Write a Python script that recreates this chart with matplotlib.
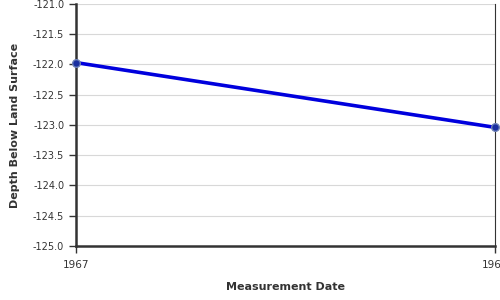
import matplotlib
matplotlib.use("Agg")
import matplotlib.pyplot as plt

# measurement dates (years) and depth below land surface
years = [1967, 1968]
depth = [-121.97, -123.04]
y_ticks = [-121.0, -121.5, -122.0, -122.5, -123.0, -123.5, -124.0, -124.5, -125.0]
x_labels = ["1967", "1968"]

fig = plt.figure(figsize=(5, 3), dpi=100)
ax = fig.add_axes([0.152, 0.18, 0.838, 0.807])

ax.plot(years, depth, color="#0000dd", linewidth=2.6, zorder=3,
        marker="o", markersize=5.5, markerfacecolor="#1a2fa0",
        markeredgecolor="#6b7fb5", markeredgewidth=1.0, clip_on=False)

ax.set_xlim(years[0], years[-1])
ax.set_ylim(-125.0, -121.0)
ax.set_yticks(y_ticks)
ax.set_yticklabels([f"{v:.1f}" for v in y_ticks])
ax.set_xticks(years)
ax.set_xticklabels(x_labels)

ax.grid(axis="y", color="#d8d8d8", linewidth=0.8)
ax.set_axisbelow(True)

for s in ["left", "bottom"]:
    ax.spines[s].set_linewidth(1.8)
    ax.spines[s].set_color("#333333")
ax.spines["right"].set_linewidth(0.8)
ax.spines["right"].set_color("#333333")
ax.spines["top"].set_visible(False)

ax.tick_params(axis="both", labelsize=7, colors="#333333", length=5, width=1, direction="out")
ax.tick_params(axis="x", pad=5, labelsize=7.5)

ax.set_xlabel("Measurement Date", fontsize=8, fontweight="bold", color="#333333", labelpad=9)
ax.set_ylabel("Depth Below Land Surface", fontsize=8, fontweight="bold", color="#333333", labelpad=9)

fig.savefig("out.png", dpi=100)
